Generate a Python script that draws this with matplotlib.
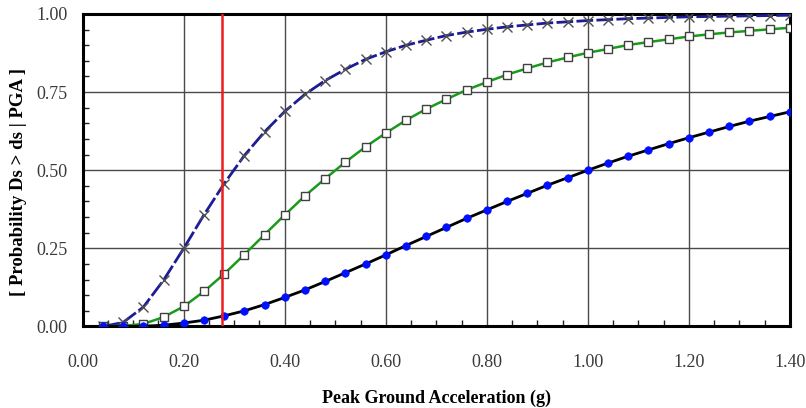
import matplotlib
matplotlib.use("Agg")
import matplotlib.pyplot as plt
from matplotlib.ticker import MultipleLocator, FormatStrFormatter

# Peak ground acceleration (g)
pga = [0.04, 0.08, 0.12, 0.16, 0.20, 0.24, 0.28, 0.32, 0.36, 0.40,
       0.44, 0.48, 0.52, 0.56, 0.60, 0.64, 0.68, 0.72, 0.76, 0.80,
       0.84, 0.88, 0.92, 0.96, 1.00, 1.04, 1.08, 1.12, 1.16, 1.20,
       1.24, 1.28, 1.32, 1.36, 1.40]

# Exceedance probabilities for each damage state
p_slight = [0.000, 0.013, 0.062, 0.148, 0.250, 0.357, 0.457, 0.547, 0.623, 0.688,
            0.743, 0.787, 0.823, 0.855, 0.879, 0.900, 0.916, 0.931, 0.942, 0.951,
            0.959, 0.965, 0.971, 0.975, 0.979, 0.982, 0.985, 0.987, 0.989, 0.991,
            0.992, 0.993, 0.994, 0.995, 0.996]

p_moderate = [0.000, 0.002, 0.008, 0.030, 0.064, 0.112, 0.168, 0.230, 0.294, 0.357,
              0.418, 0.473, 0.526, 0.575, 0.619, 0.660, 0.696, 0.727, 0.757, 0.782,
              0.806, 0.826, 0.845, 0.861, 0.876, 0.888, 0.901, 0.910, 0.919, 0.928,
              0.935, 0.941, 0.946, 0.951, 0.956]

p_extensive = [0.000, 0.000, 0.001, 0.004, 0.011, 0.020, 0.034, 0.050, 0.070, 0.093,
               0.117, 0.144, 0.172, 0.200, 0.229, 0.259, 0.288, 0.317, 0.346, 0.373,
               0.400, 0.426, 0.452, 0.476, 0.500, 0.523, 0.545, 0.565, 0.585, 0.604,
               0.622, 0.640, 0.657, 0.672, 0.687]

pga_marker = 0.275

x_ticks = [0.00, 0.20, 0.40, 0.60, 0.80, 1.00, 1.20, 1.40]
y_ticks = [0.00, 0.25, 0.50, 0.75, 1.00]

plt.rcParams["font.family"] = ["Liberation Serif", "DejaVu Serif"]

fig = plt.figure(figsize=(8.06, 4.08), dpi=100)
ax = fig.add_axes([0.1026, 0.1998, 0.8774, 0.7659])

ax.plot(pga, p_slight, color="#1c1c96", lw=2.0, dashes=(6, 1.2),
        marker="x", ms=6.5, mec="#505050", mew=1.0, zorder=4)
ax.plot(pga, p_moderate, color="#1a9a1a", lw=1.8,
        marker="s", ms=5.4, mfc="white", mec="#404040", mew=1.0, zorder=4)
ax.plot(pga, p_extensive, color="black", lw=2.0,
        marker="o", ms=5.4, mfc="#0010ff", mec="#0010ff", mew=0.5, zorder=4)

ax.axvline(pga_marker, color="#ee1c1c", lw=1.8, zorder=5)

ax.set_xlim(0, 1.40)
ax.set_ylim(0, 1.00)
ax.set_xticks(x_ticks)
ax.set_yticks(y_ticks)
ax.xaxis.set_major_formatter(FormatStrFormatter("%.2f"))
ax.yaxis.set_major_formatter(FormatStrFormatter("%.2f"))
ax.xaxis.set_minor_locator(MultipleLocator(0.05))
ax.yaxis.set_minor_locator(MultipleLocator(0.05))

ax.grid(True, which="major", color="#4a4a4a", lw=1.0)
ax.tick_params(which="major", direction="in", length=0, labelsize=13,
               labelcolor="#3a3a3a")
ax.tick_params(axis="x", which="major", pad=20)
ax.tick_params(axis="y", which="major", pad=11)
ax.tick_params(which="minor", direction="in", length=4, width=1.0, color="#222222")

for side in ax.spines.values():
    side.set_linewidth(2.2)
    side.set_color("black")

ax.set_xlabel("Peak Ground Acceleration (g)", fontsize=13, fontweight="bold",
              labelpad=13)
ax.set_ylabel("[ Probability Ds > ds | PGA ]", fontsize=13.5, fontweight="bold")
ax.yaxis.set_label_coords(-0.079, 0.462)

fig.savefig("out.png", dpi=100)
